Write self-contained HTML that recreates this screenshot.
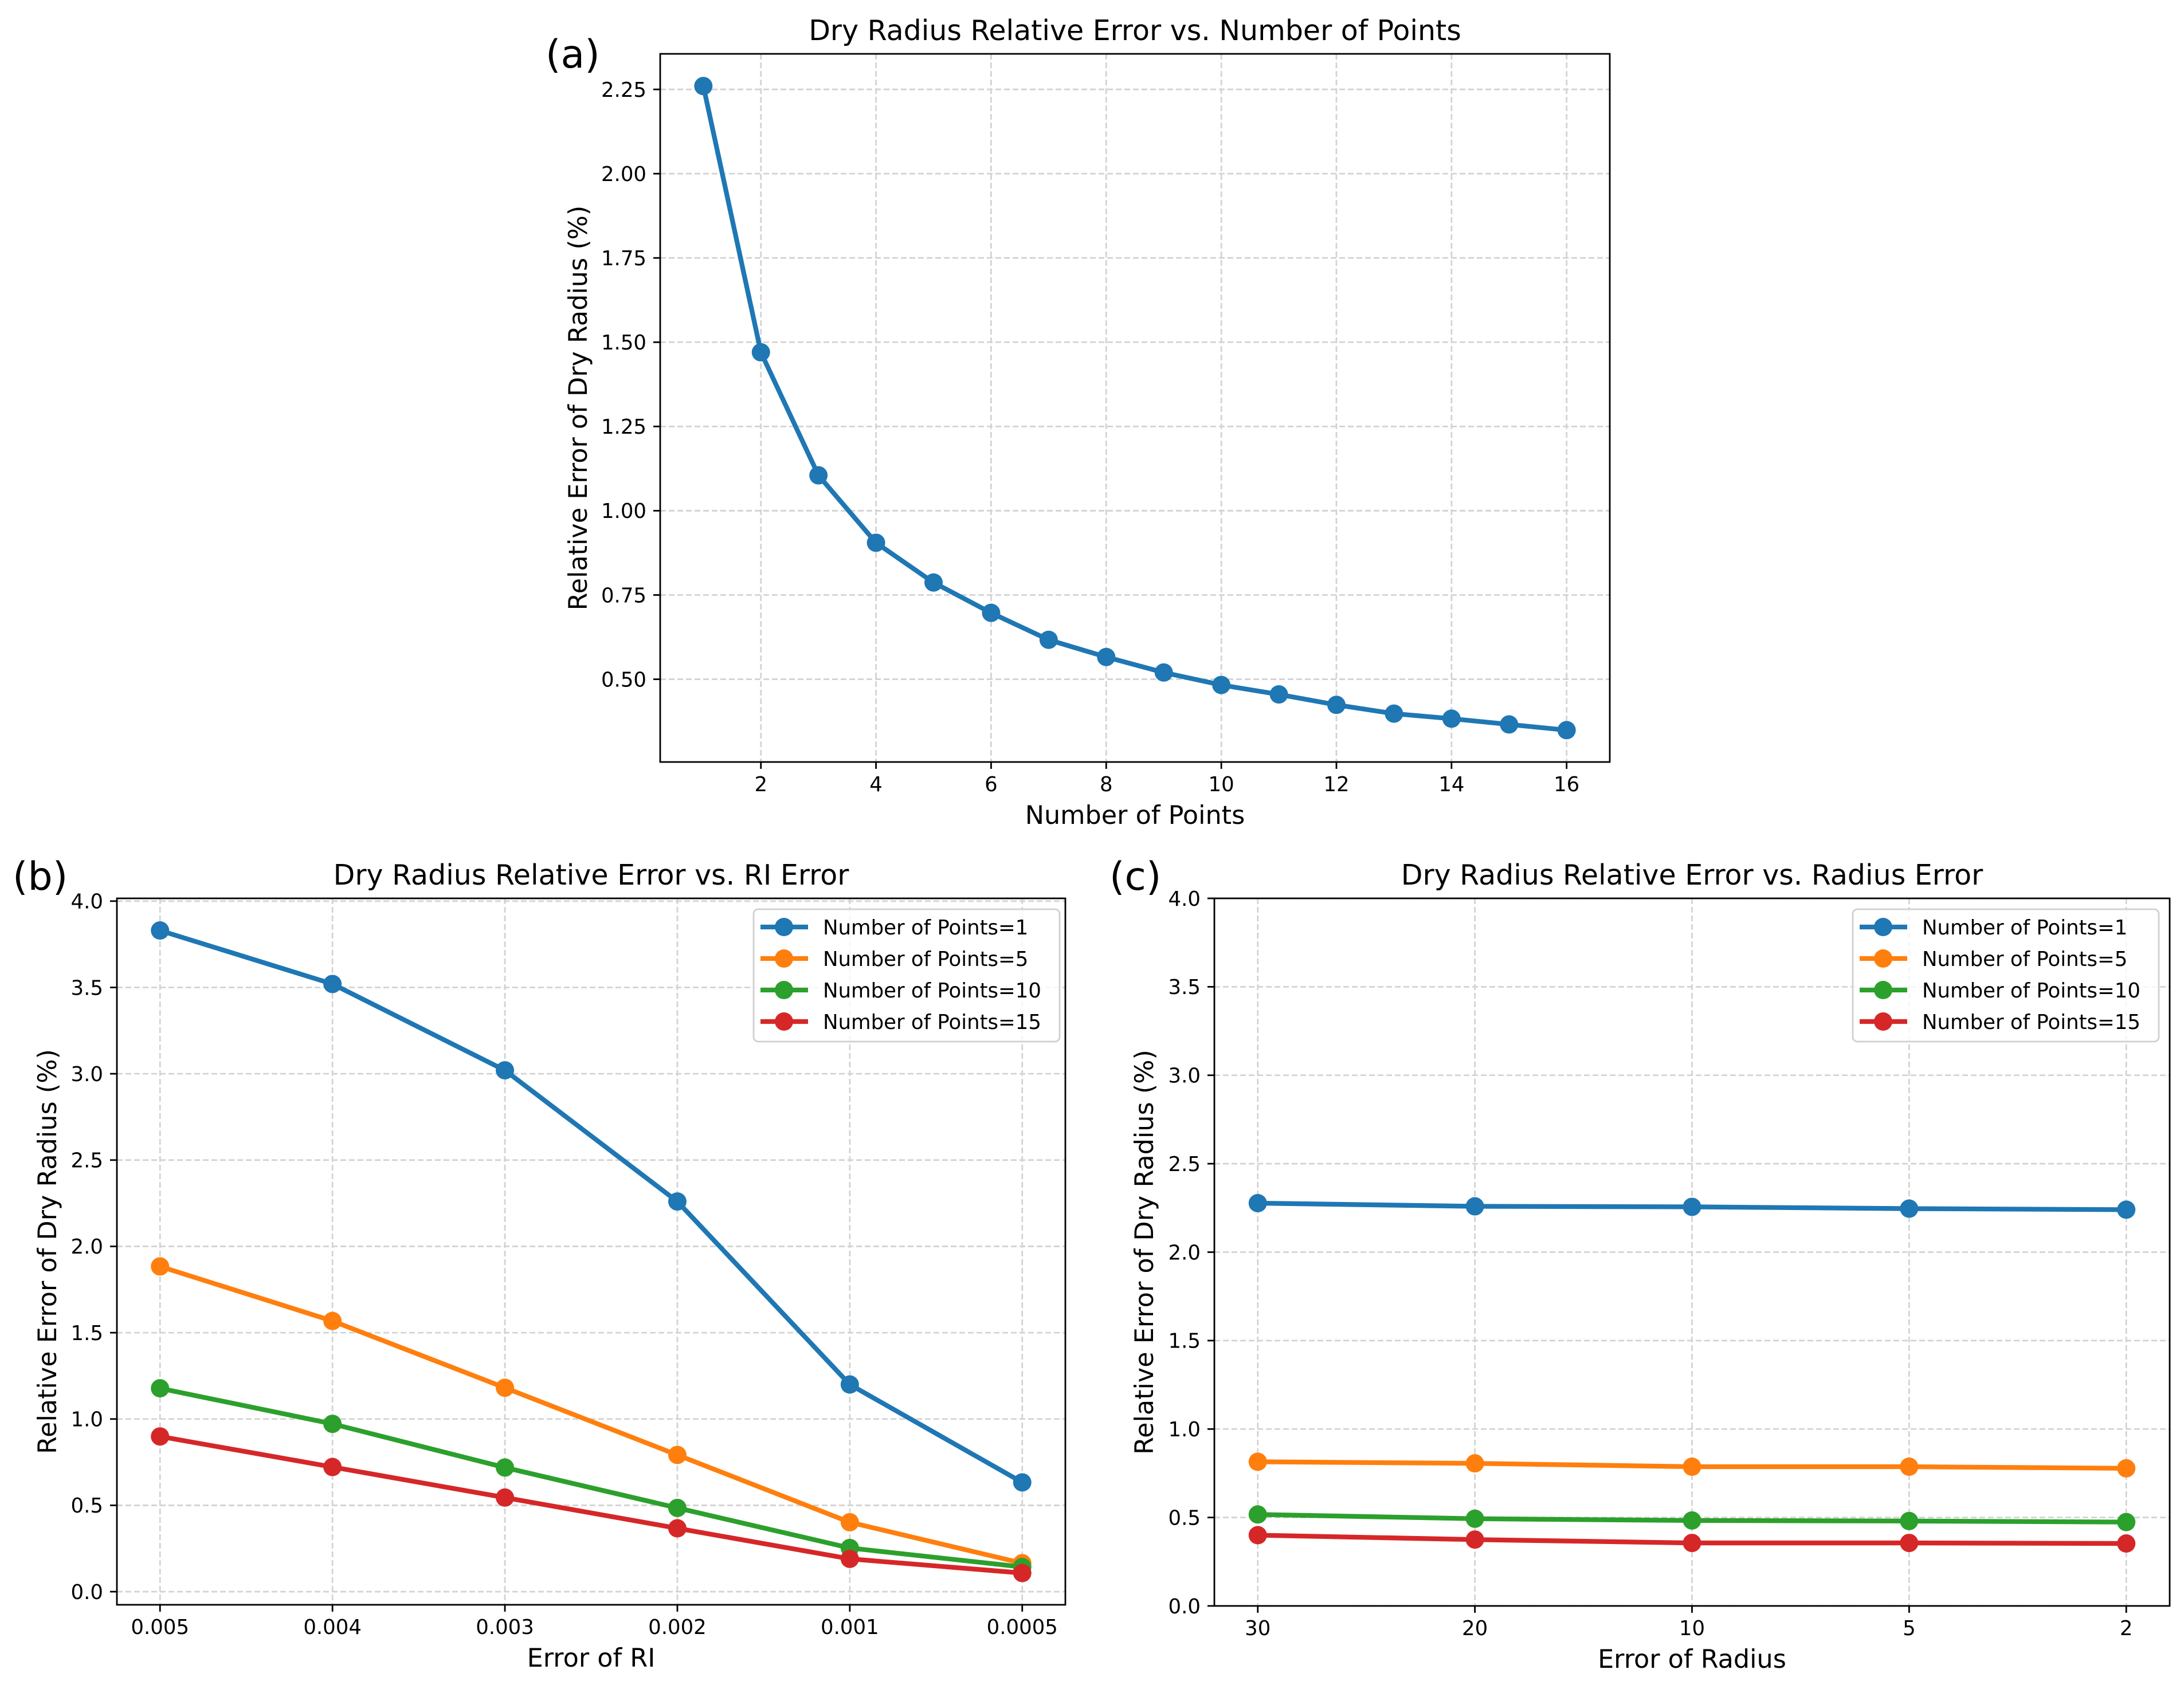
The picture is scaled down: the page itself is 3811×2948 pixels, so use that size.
<!DOCTYPE html>
<html><head><meta charset="utf-8">
<style>
html,body{margin:0;padding:0;background:#fff;}
svg{display:block;font-family:"DejaVu Sans","Liberation Sans",sans-serif;}
</style></head>
<body>
<svg id="fig" width="3811" height="2948" viewBox="0 0 3811 2948" xmlns="http://www.w3.org/2000/svg">
<rect width="3811" height="2948" fill="#fff"/>
</svg>
<script>
// Panel (a) data
const aPoints = [1,2,3,4,5,6,7,8,9,10,11,12,13,14,15,16];
const aErrors = [2.26,1.47,1.105,0.905,0.787,0.697,0.617,0.566,0.52,0.483,0.455,0.424,0.398,0.383,0.366,0.349];
const aXTicks = [2,4,6,8,10,12,14,16];
const aYTicks = [0.5,0.75,1.0,1.25,1.5,1.75,2.0,2.25];
const aYTickLabels = ["0.50","0.75","1.00","1.25","1.50","1.75","2.00","2.25"];
// Panel (b) data
const bCategories = ["0.005","0.004","0.003","0.002","0.001","0.0005"];
const bN1 = [3.83,3.52,3.02,2.26,1.20,0.633];
const bN5 = [1.884,1.568,1.181,0.792,0.402,0.165];
const bN10 = [1.178,0.972,0.719,0.485,0.253,0.143];
const bN15 = [0.899,0.722,0.545,0.367,0.19,0.108];
const bYTicks = [0,0.5,1,1.5,2,2.5,3,3.5,4];
const bYTickLabels = ["0.0","0.5","1.0","1.5","2.0","2.5","3.0","3.5","4.0"];
// Panel (c) data
const cCategories = ["30","20","10","5","2"];
const cN1 = [2.277,2.259,2.256,2.246,2.24];
const cN5 = [0.815,0.806,0.787,0.787,0.778];
const cN10 = [0.517,0.493,0.483,0.48,0.474];
const cN15 = [0.40,0.375,0.356,0.356,0.353];
const cYTicks = [0,0.5,1,1.5,2,2.5,3,3.5,4];
const cYTickLabels = ["0.0","0.5","1.0","1.5","2.0","2.5","3.0","3.5","4.0"];
const seriesNames = ["Number of Points=1","Number of Points=5","Number of Points=10","Number of Points=15"];
const colors = ["#1f77b4","#ff7f0e","#2ca02c","#d62728"];

const NS = "http://www.w3.org/2000/svg";
const fig = document.getElementById('fig');
function mk(tag, attrs, parent){
  const e = document.createElementNS(NS, tag);
  for (const k in attrs) e.setAttribute(k, attrs[k]);
  (parent||fig).appendChild(e);
  return e;
}
function txt(s, attrs, parent){ const t = mk('text', attrs, parent); t.textContent = s; return t; }

const TICK = 35.5, TITLE = 49, LABEL = 44.5, PANEL = 68;
const LW = 8.3, MR = 16;

function axes(cfg){
  const g = mk('g', {});
  
  
  const L=cfg.L,R=cfg.R,T=cfg.T,B=cfg.B;
  const sx = v => L + (v - cfg.xmin)/(cfg.xmax-cfg.xmin)*(R-L);
  const sy = v => B - (v - cfg.ymin)/(cfg.ymax-cfg.ymin)*(B-T);
  const gg = mk('g', {stroke:"#d3d3d3","stroke-width":2.8,"stroke-dasharray":"10,5",fill:"none"}, g);
  
  
  cfg.xticks.forEach(v => mk('line',{x1:sx(v),x2:sx(v),y1:T,y2:B},gg));
  cfg.yticks.forEach(v => mk('line',{x1:L,x2:R,y1:sy(v),y2:sy(v)},gg));
  const tg = mk('g', {}, g);
  
  
  cfg.xticks.forEach((v,i) => {
    mk('line',{x1:sx(v),x2:sx(v),y1:B,y2:B+12,stroke:"#000","stroke-width":2.8},tg);
    const t = txt(cfg.xlabels[i], {x:sx(v), y:B+24+TICK*0.76, "font-size":TICK, "text-anchor":"middle", fill:"#000"}, tg);
    
    
  });
  cfg.yticks.forEach((v,i) => {
    mk('line',{x1:L-12,x2:L,y1:sy(v),y2:sy(v),stroke:"#000","stroke-width":2.8},tg);
    const t = txt(cfg.ylabels[i], {x:L-24, y:sy(v)+TICK*0.36, "font-size":TICK, "text-anchor":"end", fill:"#000"}, tg);
    
    
  });
  cfg.series.forEach((s, si) => {
    const sg = mk('g', {}, g);
    
    
    const pts = s.y.map((v,i) => sx(s.x[i]) + ',' + sy(v)).join(' ');
    mk('polyline', {points:pts, fill:"none", stroke:s.color, "stroke-width":LW, "stroke-linejoin":"round", "stroke-linecap":"butt"}, sg);
    s.y.forEach((v,i) => {
      const c = mk('circle', {cx:sx(s.x[i]), cy:sy(v), r:MR, fill:s.color}, sg);
      
      
    });
  });
  const sp = mk('rect', {x:L,y:T,width:R-L,height:B-T,fill:"none",stroke:"#000","stroke-width":2.8}, g);
  
  
  const ti = txt(cfg.title, {x:(L+R)/2, y:T-24, "font-size":TITLE, "text-anchor":"middle", fill:"#000"}, g);
  
  
  const xl = txt(cfg.xtitle, {x:(L+R)/2, y:B+108, "font-size":LABEL, "text-anchor":"middle", fill:"#000"}, g);
  
  
  const yx = cfg.ylabX, yy = (T+B)/2;
  const yl = txt("Relative Error of Dry Radius (%)", {x:yx, y:yy, "font-size":LABEL, "text-anchor":"middle", fill:"#000", transform:`rotate(-90 ${yx} ${yy}) translate(0 ${LABEL*0.36})`}, g);
  
  
  const pl = txt(cfg.panel, {x:cfg.panelX, y:cfg.panelY, "font-size":PANEL, fill:"#000"}, g);
  
  
  if (cfg.legend){
    const lg = mk('g', {}, g);
    
    
    const lx = cfg.legend.x, ly = cfg.legend.y;
    mk('rect', {x:lx, y:ly, width:cfg.legend.w, height:231, rx:8, fill:"#fff", "fill-opacity":0.8, stroke:"#d0d0d0", "stroke-width":2.8}, lg);
    cfg.series.forEach((s, si) => {
      const ey = ly + 31 + si*55;
      const eg = mk('g', {}, lg);
      
      
      mk('line', {x1:lx+12, x2:lx+95, y1:ey, y2:ey, stroke:s.color, "stroke-width":LW}, eg);
      mk('circle', {cx:lx+53, cy:ey, r:MR, fill:s.color}, eg);
      txt(s.label, {x:lx+121, y:ey+TICK*0.36, "font-size":TICK, fill:"#000"}, eg);
    });
  }
}

const bIdx = bCategories.map((c,i)=>i);
const cIdx = cCategories.map((c,i)=>i);

axes({name:'panel-a-chart', L:1152, R:2809, T:94, B:1330,
  xmin:0.25, xmax:16.75, ymin:0.2545, ymax:2.3555,
  xticks:aXTicks, xlabels:aXTicks.map(String), yticks:aYTicks, ylabels:aYTickLabels,
  series:[{x:aPoints, y:aErrors, color:colors[0]}],
  title:"Dry Radius Relative Error vs. Number of Points", xtitle:"Number of Points",
  ylabX:1008, panel:"(a)", panelX:952, panelY:118});

axes({name:'panel-b-chart', L:204, R:1859, T:1568, B:2801,
  xmin:-0.25, xmax:5.25, ymin:-0.076, ymax:4.016,
  xticks:bIdx, xlabels:bCategories, yticks:bYTicks, ylabels:bYTickLabels,
  series:[bN1,bN5,bN10,bN15].map((y,i)=>({x:bIdx, y:y, color:colors[i], label:seriesNames[i]})),
  title:"Dry Radius Relative Error vs. RI Error", xtitle:"Error of RI",
  ylabX:82, panel:"(b)", panelX:22, panelY:1553,
  legend:{x:1315, y:1587, w:534}});

axes({name:'panel-c-chart', L:2119, R:3786, T:1568, B:2803,
  xmin:-0.2, xmax:4.2, ymin:0, ymax:4,
  xticks:cIdx, xlabels:cCategories, yticks:cYTicks, ylabels:cYTickLabels,
  series:[cN1,cN5,cN10,cN15].map((y,i)=>({x:cIdx, y:y, color:colors[i], label:seriesNames[i]})),
  title:"Dry Radius Relative Error vs. Radius Error", xtitle:"Error of Radius",
  ylabX:1996, panel:"(c)", panelX:1936, panelY:1553,
  legend:{x:3233, y:1587, w:534}});
</script>
</body></html>
